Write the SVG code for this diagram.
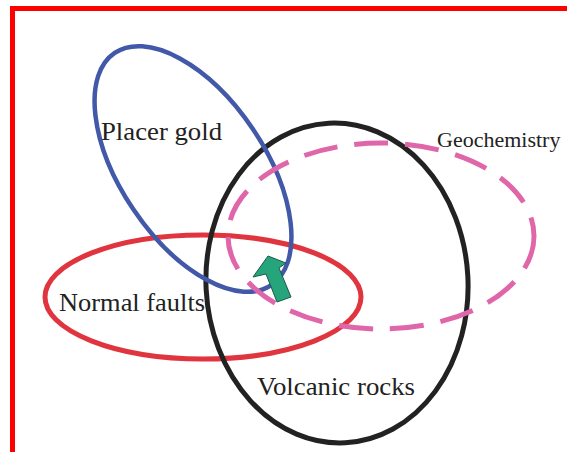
<svg xmlns="http://www.w3.org/2000/svg" width="567" height="452" viewBox="0 0 567 452">
<style>
.lbl{font-family:"Liberation Serif","Times New Roman",serif;fill:#222;font-size:26px}
.ring{fill:none}
</style>
<rect x="0" y="0" width="567" height="452" fill="#fff"/>
<rect id="frame" x="12.5" y="8.5" width="600" height="500" fill="none" stroke="#ff0000" stroke-width="5"/>
<g id="connectors"></g>
<g id="normal-faults">
<ellipse class="ring" cx="203" cy="297" rx="158" ry="62" stroke="#e0343e" stroke-width="5"/>
</g>
<g id="volcanic-rocks">
<ellipse class="ring" cx="337" cy="283" rx="131" ry="160" transform="rotate(-3 337 283)" stroke="#222" stroke-width="5"/>
</g>
<g id="placer-gold">
<ellipse class="ring" cx="193" cy="169" rx="140" ry="72" transform="rotate(56 193 169)" stroke="#4258a8" stroke-width="4.5"/>
</g>
<g id="geochemistry">
<ellipse class="ring" cx="381" cy="236" rx="153" ry="93" stroke="#e066aa" stroke-width="5" stroke-dasharray="34 17"/>
</g>
<g id="arrow">
<polygon points="268,256 286,263 279,268 291,297 277,302 266,274 253,277" fill="#26a47c" stroke="#1d5a46" stroke-width="1"/>
</g>
<text class="lbl" x="101" y="140" textLength="121" lengthAdjust="spacingAndGlyphs">Placer gold</text>
<text class="lbl" x="59" y="311" textLength="146" lengthAdjust="spacingAndGlyphs">Normal faults</text>
<text class="lbl" x="257" y="395" textLength="158" lengthAdjust="spacingAndGlyphs">Volcanic rocks</text>
<text class="lbl" x="437" y="147" style="font-size:22px">Geochemistry</text>
</svg>
